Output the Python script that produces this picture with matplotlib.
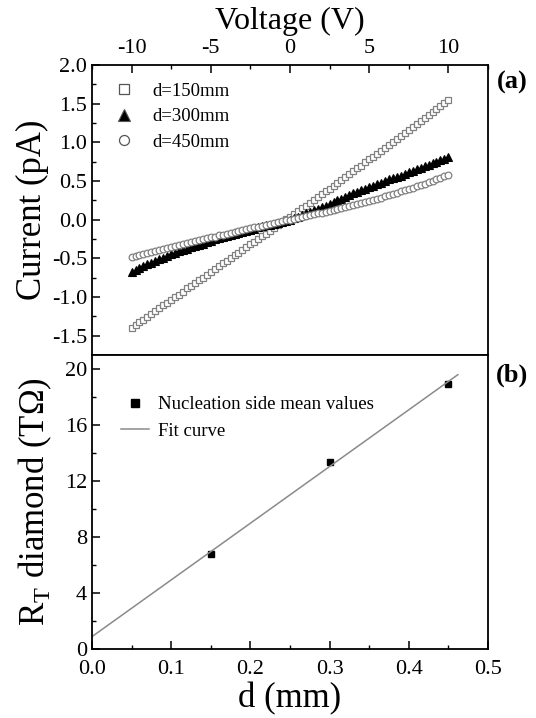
import numpy as np
import matplotlib
matplotlib.use('Agg')
import matplotlib.pyplot as plt
from matplotlib.ticker import MultipleLocator

plt.rcParams['font.family'] = ['Liberation Serif', 'DejaVu Serif']
plt.rcParams['mathtext.fontset'] = 'custom'
plt.rcParams['mathtext.rm'] = 'Liberation Serif'

## panel (a) data: I-V sweeps (0.25 V steps)
voltage = np.linspace(-10, 10, 81)
current_150 = [-1.40, -1.365, -1.33, -1.295, -1.26, -1.22, -1.18, -1.145, -1.11, -1.075,
               -1.04, -1.005, -0.97, -0.93, -0.89, -0.855, -0.82, -0.785, -0.75, -0.715,
               -0.68, -0.64, -0.60, -0.565, -0.53, -0.495, -0.46, -0.425, -0.39, -0.355,
               -0.32, -0.285, -0.25, -0.215, -0.18, -0.145, -0.11, -0.07, -0.03, 0.005,
               0.04, 0.075, 0.11, 0.145, 0.18, 0.22, 0.26, 0.295, 0.33, 0.365,
               0.40, 0.44, 0.48, 0.515, 0.55, 0.59, 0.63, 0.665, 0.70, 0.74,
               0.78, 0.815, 0.85, 0.89, 0.93, 0.97, 1.01, 1.045, 1.08, 1.12,
               1.16, 1.20, 1.24, 1.28, 1.32, 1.355, 1.39, 1.43, 1.47, 1.51, 1.55]
current_300 = [-0.68, -0.655, -0.63, -0.605, -0.58, -0.56, -0.54, -0.515, -0.49, -0.47,
               -0.45, -0.43, -0.41, -0.395, -0.38, -0.36, -0.34, -0.325, -0.31, -0.29,
               -0.27, -0.255, -0.24, -0.225, -0.21, -0.195, -0.18, -0.168, -0.155, -0.143,
               -0.13, -0.115, -0.10, -0.088, -0.075, -0.063, -0.05, -0.038, -0.025, -0.013,
               0.00, 0.02, 0.04, 0.06, 0.08, 0.10, 0.12, 0.14, 0.16, 0.18,
               0.20, 0.225, 0.25, 0.27, 0.29, 0.315, 0.34, 0.36, 0.38, 0.40,
               0.42, 0.44, 0.46, 0.48, 0.50, 0.52, 0.54, 0.555, 0.57, 0.59,
               0.61, 0.63, 0.65, 0.67, 0.69, 0.71, 0.73, 0.75, 0.77, 0.79, 0.81]
current_450 = [-0.48, -0.468, -0.455, -0.443, -0.43, -0.418, -0.405, -0.393, -0.38, -0.368,
               -0.355, -0.343, -0.33, -0.318, -0.305, -0.293, -0.28, -0.268, -0.255, -0.243,
               -0.23, -0.218, -0.205, -0.193, -0.18, -0.17, -0.16, -0.148, -0.135, -0.123,
               -0.11, -0.10, -0.09, -0.08, -0.07, -0.058, -0.045, -0.033, -0.02, -0.01,
               0.00, 0.01, 0.02, 0.033, 0.045, 0.058, 0.07, 0.08, 0.09, 0.103,
               0.115, 0.128, 0.14, 0.153, 0.165, 0.178, 0.19, 0.205, 0.22, 0.233,
               0.245, 0.258, 0.27, 0.285, 0.30, 0.315, 0.33, 0.348, 0.365, 0.383,
               0.40, 0.415, 0.43, 0.448, 0.465, 0.483, 0.50, 0.52, 0.54, 0.56, 0.58]

## panel (b) data
d_mm = [0.15, 0.30, 0.45]
r_mean = [6.8, 13.35, 18.95]

# linear fit
slope, icept = np.polyfit(d_mm, r_mean, 1)
d_fit = np.array([0.0, 0.462])

fig = plt.figure(figsize=(5.36, 7.18), dpi=100)
ax1 = fig.add_axes([0.1716, 0.5056, 0.7388, 0.4039])
ax2 = fig.add_axes([0.1716, 0.0961, 0.7388, 0.4095])

gray = '#808080'
ax1.plot(voltage, current_150, 's', ms=4.8, mfc='white', mec=gray, mew=0.9, label='d=150mm')
ax1.plot(voltage, current_300, '^', ms=6.2, mfc='black', mec='black', mew=0.8, label='d=300mm')
ax1.plot(voltage, current_450, 'o', ms=4.8, mfc='white', mec=gray, mew=0.9, label='d=450mm')

ax1.set_xlim(-12.5, 12.5)
ax1.set_ylim(-1.75, 2.0)
ax1.xaxis.tick_top()
ax1.xaxis.set_label_position('top')
ax1.xaxis.set_major_locator(MultipleLocator(5))
ax1.xaxis.set_minor_locator(MultipleLocator(2.5))
ax1.yaxis.set_major_locator(MultipleLocator(0.5))
ax1.yaxis.set_minor_locator(MultipleLocator(0.25))
ax1.set_yticks([-1.5, -1.0, -0.5, 0.0, 0.5, 1.0, 1.5, 2.0])
ax1.set_yticklabels(['-1.5', '-1.0', '-0.5', '0.0', '0.5', '1.0', '1.5', '2.0'])
ax1.set_xticks([-10, -5, 0, 5, 10])
ax1.set_xticklabels(['-10', '-5', '0', '5', '10'])
ax1.set_xlabel('Voltage (V)', fontsize=23, labelpad=7)
ax1.set_ylabel('Current (pA)', fontsize=25, labelpad=2)
leg1 = ax1.legend(loc='upper left', frameon=False, fontsize=13.5, handletextpad=0.9,
                  labelspacing=0.45, borderaxespad=0.3, handlelength=1.2,
                  markerscale=1.5, bbox_to_anchor=(0.02, 0.985))
for h in leg1.legend_handles:
    h.set_markeredgecolor('#555555')

ax2.plot(d_mm, r_mean, 's', ms=4, color='black', label='Nucleation side mean values')
ax2.plot(d_fit, icept + slope * d_fit, '-', color='#8a8a8a', lw=1.1, label='Fit curve')
ax2.set_xlim(0, 0.5)
ax2.set_ylim(0, 21)
ax2.xaxis.set_major_locator(MultipleLocator(0.1))
ax2.xaxis.set_minor_locator(MultipleLocator(0.05))
ax2.yaxis.set_major_locator(MultipleLocator(4))
ax2.yaxis.set_minor_locator(MultipleLocator(2))
ax2.set_xticks([0.0, 0.1, 0.2, 0.3, 0.4, 0.5])
ax2.set_xticklabels(['0.0', '0.1', '0.2', '0.3', '0.4', '0.5'])
ax2.set_xlabel('d (mm)', fontsize=25, labelpad=2)
ax2.set_ylabel(r'R$_\mathregular{T}$ diamond (T$\Omega$)', fontsize=25, labelpad=8)
ax2.legend(loc='upper left', frameon=False, fontsize=13.5, handletextpad=0.5,
           labelspacing=0.5, borderaxespad=0.3, handlelength=1.5,
           markerscale=1.4, bbox_to_anchor=(0.04, 0.905))

for ax in (ax1, ax2):
    ax.tick_params(which='both', direction='in', labelsize=16, right=False)
    ax.tick_params(which='major', length=6, width=1.1)
    ax.tick_params(which='minor', length=3, width=1.0)
    for sp in ax.spines.values():
        sp.set_linewidth(1.3)
ax1.tick_params(axis='x', which='both', bottom=False, top=True, pad=5)
ax2.tick_params(axis='x', which='both', top=False, pad=8)

fig.text(0.955, 0.885, '(a)', fontsize=19, fontweight='bold', ha='center', va='center')
fig.text(0.955, 0.478, '(b)', fontsize=19, fontweight='bold', ha='center', va='center')

fig.savefig('out.png', dpi=100)
